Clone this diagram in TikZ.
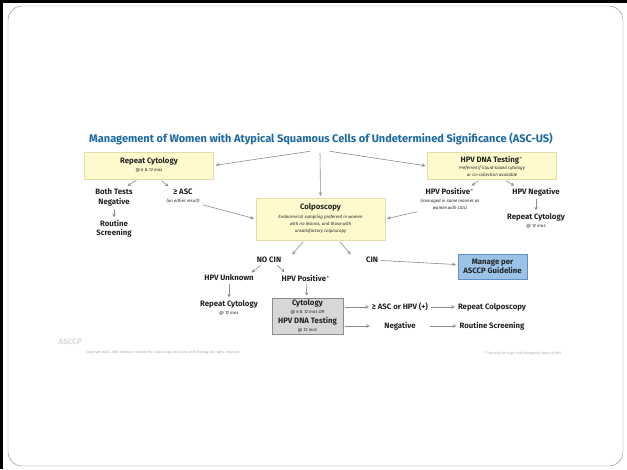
\documentclass[tikz,border=0pt]{standalone}
\usepackage{fontspec}
\setmainfont{Fira Sans}
\usetikzlibrary{positioning}
\definecolor{titleblue}{RGB}{28,105,160}
\definecolor{ink}{RGB}{35,35,35}
\definecolor{boxfill}{RGB}{255,250,205}
\definecolor{boxline}{RGB}{225,220,170}
\definecolor{grayfill}{RGB}{215,215,215}
\definecolor{grayline}{RGB}{140,140,140}
\definecolor{bluefill}{RGB}{155,195,232}
\definecolor{blueline}{RGB}{95,145,200}
\definecolor{arrowgray}{RGB}{140,140,140}
\newcommand{\asclbl}{\fontsize{7.8}{9}\selectfont\bfseries}
\newcommand{\ascnote}{\fontsize{4.4}{6}\selectfont\mdseries\itshape}

\begin{document}
\begin{tikzpicture}[x=1pt, y=-1pt, >=stealth,
    box/.style = {draw=boxline, fill=boxfill, minimum width=129, inner sep=1pt, align=center, font=\asclbl, text=ink},
    lbl/.style = {align=center, font=\asclbl, text=ink, inner sep=1pt},
    arr/.style = {->, draw=arrowgray, line width=0.6pt, shorten >=2pt, shorten <=2pt}]
    \useasboundingbox (0,0) rectangle (627,469);
    % slide frame
    \fill[white] (0,0) rectangle (627,469);
    \draw[gray, rounded corners=14] (8,6) rectangle (623,466);
    \fill[black] (0,0) rectangle (3,469);
    \fill[black] (0,0) rectangle (627,3);

    \node[font=\fontsize{11}{13}\selectfont\bfseries, text=titleblue] (title) at (321,139)
        {Management of Women with Atypical Squamous Cells of Undetermined Significance (ASC-US)};
    \coordinate (splitl) at (312,151);
    \coordinate (splitc) at (320,151);
    \coordinate (splitr) at (328,151);

    % top row
    \node[box, minimum height=27] (rc) at (149,165.5) {Repeat Cytology\\[-1pt]{\ascnote @ 6 \& 12 mos}};
    \node[box, minimum height=27] (hpv) at (492,166) {HPV DNA Testing$^{*}$\\[-1.5pt]{\ascnote Preferred if liquid-based cytology}\\[-2.5pt]{\ascnote or co-collection available}};
    \node[box, minimum height=42] (colpo) at (320.5,219) {Colposcopy\\[0pt]{\ascnote Endocervical sampling preferred in women}\\[-2pt]{\ascnote with no lesions, and those with}\\[-2pt]{\ascnote unsatisfactory colposcopy}};

    \node[lbl] (btn) at (114,197) {Both Tests\\[1pt]Negative};
    \node[lbl] (asc) at (183,196) {≥ ASC\\[-1pt]{\ascnote (on either result)}};
    \node[lbl] (rs1) at (114,229) {Routine\\Screening};
    \node[lbl] (hpvpos) at (450,199) {HPV Positive$^{*}$\\[-1pt]{\ascnote (managed in same manner as}\\[-2pt]{\ascnote women with LSIL)}};
    \node[lbl] (hpvneg) at (536,192) {HPV Negative};
    \node[lbl] (rc2) at (536,221) {Repeat Cytology\\[-1pt]{\ascnote @ 12 mos}};

    % lower part
    \node[lbl] (nocin) at (269,260) {NO CIN};
    \node[lbl] (cin) at (372,260) {CIN};
    \node[draw=blueline, fill=bluefill, minimum width=69, minimum height=25, align=center, inner sep=1pt,
          font=\asclbl, text=ink] (manage) at (492.5,266.5) {Manage per\\ASCCP Guideline};
    \node[lbl] (hpvunk) at (229,278) {HPV Unknown};
    \node[lbl] (hpvpos2) at (306,278) {HPV Positive$^{*}$};
    \node[lbl] (rc3) at (229,308) {Repeat Cytology\\[-1pt]{\ascnote @ 12 mos}};
    \node[draw=grayline, fill=grayfill, minimum width=71, minimum height=36, align=center, inner sep=1pt,
          font=\asclbl, text=ink] (cyt) at (307.5,316) {Cytology\\[-1pt]{\ascnote @ 6 \& 12 mos OR}\\[1pt]HPV DNA Testing\\[-1pt]{\ascnote @ 12 mos}};
    \node[lbl, minimum width=56] (ascor) at (400,307) {≥ ASC or HPV (+)};
    \node[lbl, minimum width=56] (neg) at (400,326) {Negative};
    \node[lbl, minimum width=62] (rcol) at (492,307) {Repeat Colposcopy};
    \node[lbl, minimum width=62] (rs2) at (492,326) {Routine Screening};

    % footer
    \node[font=\fontsize{8}{8}\selectfont\bfseries, text=gray!30] (logo) at (70,342) {ASCCP};
    \node[font=\fontsize{3.5}{4}\selectfont, text=gray!70] (copy) at (163,353)
        {Copyright 2006, 2007, American Society for Colposcopy and Cervical Pathology. All rights reserved.};
    \node[font=\fontsize{3.5}{4}\selectfont\itshape, text=gray!70] (foot) at (523,353)
        {* Test only for high-risk (oncogenic) types of HPV};

    % arrows
    \draw[arr] (splitl) -- (rc.east);
    \draw[arr] (splitc) -- (colpo.north);
    \draw[arr] (splitr) -- (hpv.west);
    \draw[arr] ([xshift=-11pt]rc.south) -- ([xshift=12pt]btn.north);
    \draw[arr] ([xshift=11pt]rc.south) -- ([xshift=-13pt]asc.north);
    \draw[arr] (btn) -- (rs1);
    \draw[arr] (asc.south east) -- (colpo.west);
    \draw[arr] ([xshift=-12pt]hpv.south) -- ([xshift=20pt]hpvpos.north);
    \draw[arr] ([xshift=12pt]hpv.south) -- ([xshift=-20pt]hpvneg.north);
    \draw[arr] (hpvneg) -- (rc2);
    \draw[arr] (hpvpos.south west) -- (colpo.east);
    \draw[arr] ([xshift=-16pt]colpo.south) -- ([xshift=22pt]nocin.north);
    \draw[arr] ([xshift=18pt]colpo.south) -- ([xshift=-20pt]cin.north);
    \draw[arr] (cin) -- (manage);
    \draw[arr] ([xshift=-7pt]nocin.south) -- ([xshift=21pt]hpvunk.north);
    \draw[arr] ([xshift=7pt]nocin.south) -- ([xshift=-20pt]hpvpos2.north);
    \draw[arr] (hpvunk) -- (rc3);
    \draw[arr] (hpvpos2) -- (cyt);
    \draw[arr] (cyt.east |- ascor) -- (ascor.west);
    \draw[arr] (ascor) -- (rcol);
    \draw[arr] (cyt.east |- neg) -- (neg.west);
    \draw[arr] (neg) -- (rs2);
\end{tikzpicture}
\end{document}
